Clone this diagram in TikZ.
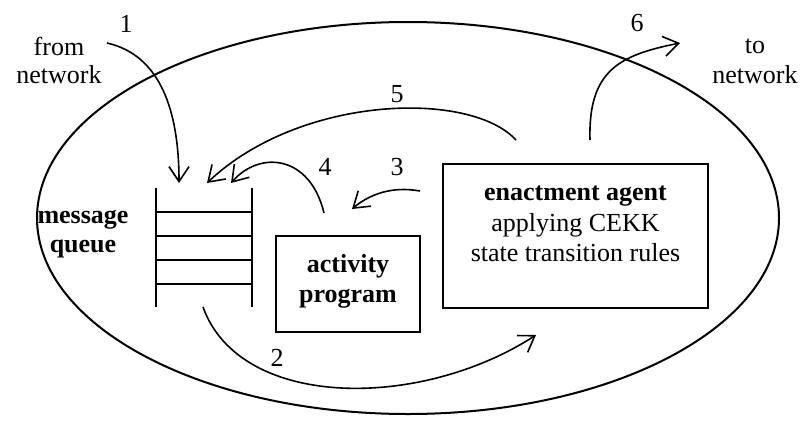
\documentclass[tikz,border=0pt]{standalone}
\usepackage{fontspec}
\setmainfont{Liberation Serif}
\usetikzlibrary{arrows.meta}
\begin{document}
\begin{tikzpicture}[x=1pt,y=-1pt,
  txt/.style={inner sep=0pt,anchor=base,font=\fontsize{26}{30}\selectfont},
  btxt/.style={txt,font=\fontsize{26}{30}\selectfont\bfseries},
  boxline/.style={line width=2pt},
  flow/.style={line width=1.6pt,-{Straight Barb[length=15pt,width=20pt,line width=1.6pt]}},
  corner/.style={inner sep=0pt,minimum size=0pt}]
\useasboundingbox (0,0) rectangle (802,426);

% environment boundary
\draw[boxline] (408,218) ellipse [x radius=371, y radius=196];

% message queue
\coordinate (qtl) at (156,188);
\coordinate (qbl) at (156,307);
\coordinate (qtr) at (252,188);
\coordinate (qbr) at (252,307);
\draw[boxline] (qtl) -- (qbl);
\draw[boxline] (qtr) -- (qbr);
\foreach \y in {212,236,260,284}
  \draw[boxline] (156,\y) -- (252,\y);
\node[btxt] (mq1) at (83,223) {message};
\node[btxt] (mq2) at (83,252) {queue};

% activity program
\node[draw,boxline,corner,minimum width=144pt,minimum height=96pt] (ap) at (348,284) {};
\node[btxt] (ap1) at (348,272) {activity};
\node[btxt] (ap2) at (348,302) {program};

% enactment agent
\node[draw,boxline,corner,minimum width=265pt,minimum height=144pt] (ea) at (575.5,236) {};
\node[btxt] (ea1) at (575.5,200) {enactment agent};
\node[txt] (ea2) at (575.5,231) {applying CEKK};
\node[txt] (ea3) at (575.5,261) {state transition rules};

% network labels
\node[txt] (fn1) at (59,55) {from};
\node[txt] (fn2) at (59,83) {network};
\node[txt] (tn1) at (755,53) {to};
\node[txt] (tn2) at (755,83) {network};

% connector ends
\coordinate (in1) at (107,43);
\coordinate (q1) at (179,183);
\coordinate (q5) at (207,183);
\coordinate (q4) at (231,183);
\coordinate (qout) at (203,307);
\coordinate (ea5) at (516,140);
\coordinate (ea6) at (590,140);
\coordinate (ea3s) at (420,191);
\coordinate (ap3) at (352,209);
\coordinate (ap4) at (324,213);
\coordinate (ea2) at (536,335);
\coordinate (out6) at (680,43);

% message flows
\draw[flow] (in1) .. controls (160,55) and (179,110) .. (q1);
\draw[flow] (qout) .. controls (240,410) and (420,410) .. (ea2);
\draw[flow] (ea3s) .. controls (392,186) and (370,194) .. (ap3);
\draw[flow] (ap4) .. controls (310,155) and (260,150) .. (q4);
\draw[flow] (ea5) .. controls (470,90) and (300,95) .. (q5);
\draw[flow] (ea6) .. controls (588,70) and (620,55) .. (out6);

% flow numbers
\node[txt,anchor=center] (n1) at (126,24) {1};
\node[txt,anchor=center] (n2) at (277,358) {2};
\node[txt,anchor=center] (n3) at (397,167) {3};
\node[txt,anchor=center] (n4) at (325,167) {4};
\node[txt,anchor=center] (n5) at (397,94) {5};
\node[txt,anchor=center] (n6) at (637,23) {6};
\end{tikzpicture}
\end{document}
